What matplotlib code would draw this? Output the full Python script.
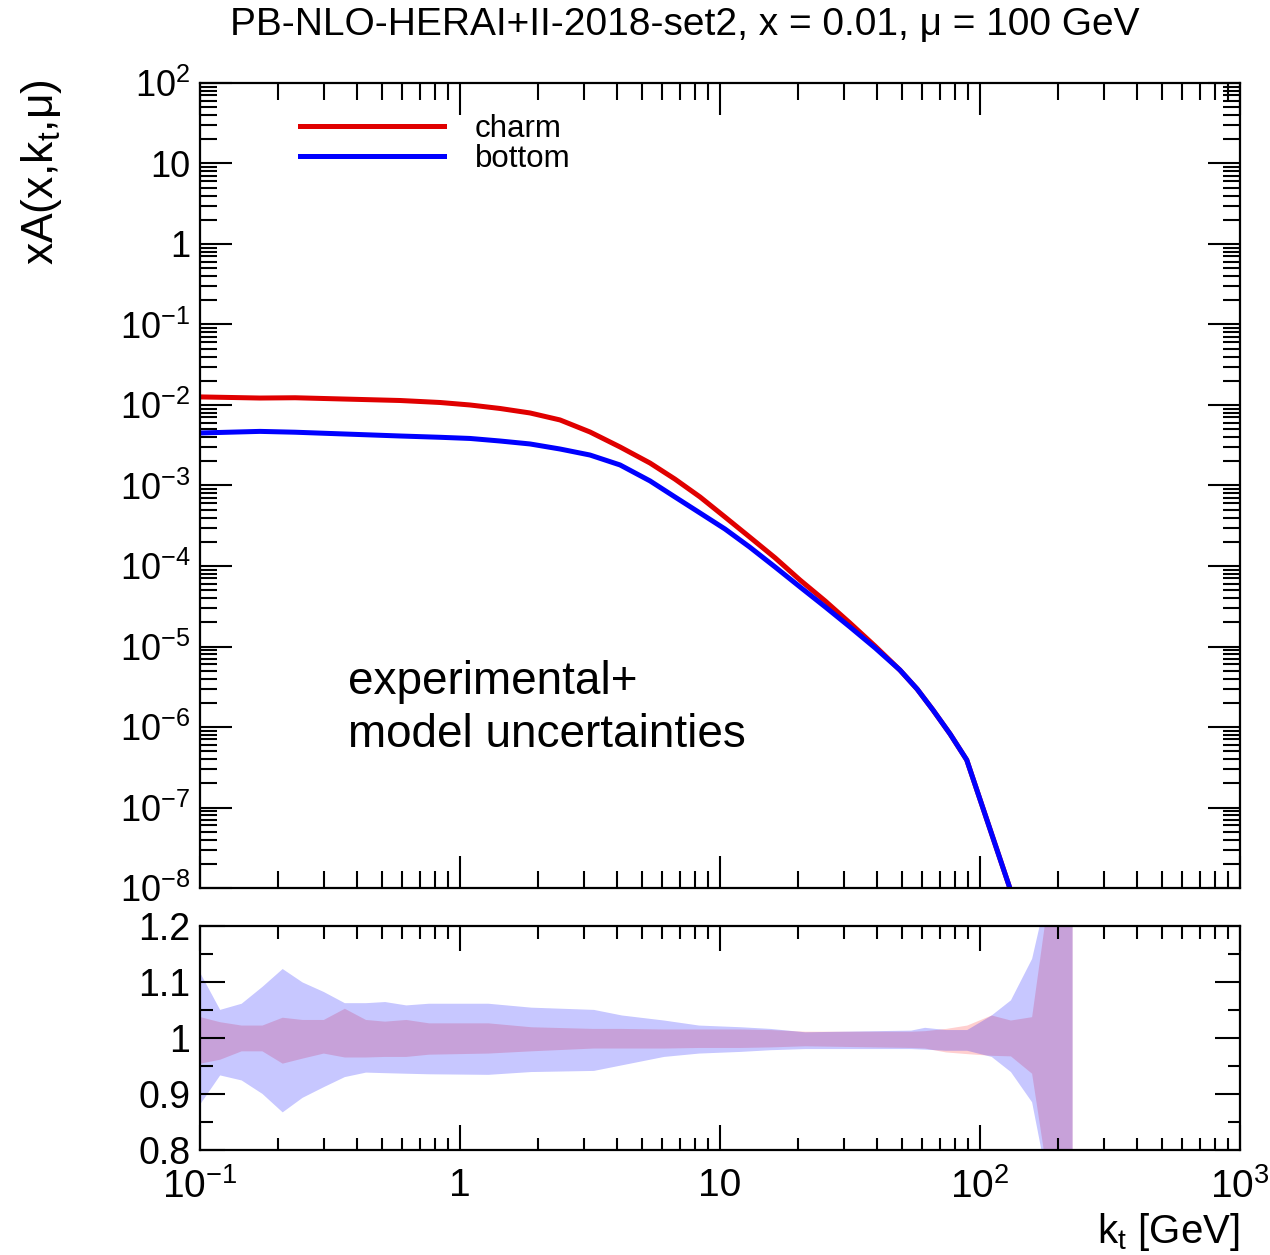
import numpy as np
import matplotlib.pyplot as plt
from matplotlib.ticker import FixedLocator, LogLocator, NullFormatter

plt.rcParams['font.family'] = ['Liberation Sans', 'DejaVu Sans']
plt.rcParams['mathtext.fontset'] = 'custom'
plt.rcParams['mathtext.rm'] = 'Liberation Sans'
plt.rcParams['mathtext.it'] = 'Liberation Sans:italic'
plt.rcParams['mathtext.default'] = 'regular'

# ---- central TMD values, xA(x, kt, mu) at x = 0.01, mu = 100 GeV ----
kt = [0.10, 0.17, 0.232, 0.588, 0.838, 1.093, 1.425, 1.859, 2.424, 3.162,
      4.125, 5.38, 6.71, 8.38, 10.45, 13.0, 16.3, 20.3, 25.4, 31.6, 39.5,
      49.2, 57.3, 65.9, 76.7, 88.9, 130.9, 157.9]
xa_charm = [0.0126, 0.0122, 0.0123, 0.01137, 0.01074, 0.0100, 0.00905,
            0.00796, 0.00652, 0.00462, 0.00301, 0.00190, 0.00120, 7.2e-4,
            4.06e-4, 2.29e-4, 1.26e-4, 6.7e-5, 3.67e-5, 1.96e-5, 1.01e-5,
            5.1e-6, 2.96e-6, 1.63e-6, 8.2e-7, 3.9e-7, 9.5e-9, 1.6e-9]
xa_bottom = [0.00449, 0.0047, 0.00459, 0.00412, 0.00397, 0.00384, 0.00357,
             0.00328, 0.00284, 0.00239, 0.0018, 0.00114, 7.2e-4, 4.55e-4,
             2.88e-4, 1.72e-4, 9.7e-5, 5.5e-5, 3.10e-5, 1.75e-5, 9.6e-6,
             5.1e-6, 2.96e-6, 1.63e-6, 8.2e-7, 3.9e-7, 9.5e-9, 1.6e-9]

# ---- relative uncertainty bands (exp + model) ----
band_kt = [0.100, 0.119, 0.144, 0.173, 0.207, 0.247, 0.298, 0.359, 0.433,
           0.513, 0.619, 0.757, 1.28, 1.87, 3.26, 4.18, 6.07, 8.28, 12.0,
           15.6, 21.2, 54.1, 61.2, 73.8, 88.9, 110.4, 130.9, 157.9, 189.0,
           226.0]
bottom_lo = [0.883, 0.934, 0.925, 0.901, 0.868, 0.894, 0.913, 0.931, 0.939,
             0.938, 0.937, 0.936, 0.935, 0.940, 0.942, 0.952, 0.967, 0.973,
             0.976, 0.979, 0.981, 0.981, 0.980, 0.978, 0.978, 0.967, 0.940,
             0.886, 0.70, 0.70]
bottom_hi = [1.116, 1.051, 1.062, 1.092, 1.124, 1.100, 1.083, 1.063, 1.063,
             1.065, 1.059, 1.062, 1.062, 1.055, 1.051, 1.041, 1.032, 1.023,
             1.020, 1.017, 1.011, 1.014, 1.019, 1.015, 1.015, 1.041, 1.068,
             1.142, 1.30, 1.30]
charm_lo = [0.955, 0.962, 0.977, 0.977, 0.955, 0.964, 0.973, 0.966, 0.966,
            0.967, 0.967, 0.971, 0.973, 0.977, 0.982, 0.982, 0.982, 0.983,
            0.983, 0.984, 0.986, 0.983, 0.982, 0.975, 0.972, 0.969, 0.968,
            0.937, 0.70, 0.70]
charm_hi = [1.038, 1.029, 1.023, 1.023, 1.037, 1.033, 1.033, 1.053, 1.033,
            1.030, 1.033, 1.027, 1.027, 1.020, 1.017, 1.017, 1.016, 1.016,
            1.016, 1.015, 1.012, 1.012, 1.013, 1.017, 1.023, 1.041, 1.032,
            1.038, 1.30, 1.30]

y_major = [1e-8, 1e-7, 1e-6, 1e-5, 1e-4, 1e-3, 1e-2, 1e-1, 1, 10, 100]
y_labels = ['$10^{-8}$', '$10^{-7}$', '$10^{-6}$', '$10^{-5}$', '$10^{-4}$',
            '$10^{-3}$', '$10^{-2}$', '$10^{-1}$', '1', '10', '$10^{2}$']
x_major = [0.1, 1, 10, 100, 1000]
x_labels = ['$10^{-1}$', '1', '10', '$10^{2}$', '$10^{3}$']
r_major = [0.8, 0.9, 1.0, 1.1, 1.2]
r_labels = ['0.8', '0.9', '1', '1.1', '1.2']

fig = plt.figure(figsize=(12.7, 12.55), dpi=100)
ax = fig.add_axes([0.1575, 0.2924, 0.8189, 0.6415])
rax = fig.add_axes([0.1575, 0.0837, 0.8189, 0.1785])

# upper pad: the distributions
ax.plot(kt, xa_charm, color='#e00000', lw=3.6, label='charm')
ax.plot(kt, xa_bottom, color='#0000ff', lw=3.6, label='bottom')
ax.set_xscale('log')
ax.set_yscale('log')
ax.set_xlim(0.1, 1000)
ax.set_ylim(1e-8, 1e2)
ax.yaxis.set_major_locator(FixedLocator(y_major))
ax.set_yticklabels(y_labels)
ax.yaxis.set_minor_locator(LogLocator(base=10, subs=np.arange(2, 10), numticks=100))
ax.yaxis.set_minor_formatter(NullFormatter())
ax.xaxis.set_major_locator(FixedLocator(x_major))
ax.xaxis.set_minor_locator(LogLocator(base=10, subs=np.arange(2, 10), numticks=100))
ax.xaxis.set_major_formatter(NullFormatter())
ax.xaxis.set_minor_formatter(NullFormatter())
ax.tick_params(which='both', direction='in', top=True, right=True, width=1.5)
ax.tick_params(which='major', length=23, labelsize=26, pad=7)
ax.tick_params(which='minor', length=12)

ax.legend(loc='upper left', bbox_to_anchor=(0.096, 0.961), frameon=False,
          fontsize=22.5, handlelength=4.6, handletextpad=1.0,
          labelspacing=0.0, borderpad=0, borderaxespad=0)
ax.text(0.142, 0.223, 'experimental+\nmodel uncertainties', transform=ax.transAxes,
        fontsize=33, ha='left', va='center', linespacing=1.24)

# lower pad: relative uncertainties
rax.fill_between(band_kt, charm_lo, charm_hi, color=(1.0, 0.0, 0.0), alpha=0.19, lw=0)
rax.fill_between(band_kt, bottom_lo, bottom_hi, color=(0.0, 0.0, 1.0), alpha=0.22, lw=0)
rax.set_xscale('log')
rax.set_xlim(0.1, 1000)
rax.set_ylim(0.8, 1.2)
rax.xaxis.set_major_locator(FixedLocator(x_major))
rax.set_xticklabels(x_labels)
rax.xaxis.set_minor_locator(LogLocator(base=10, subs=np.arange(2, 10), numticks=100))
rax.xaxis.set_minor_formatter(NullFormatter())
rax.yaxis.set_major_locator(FixedLocator(r_major))
rax.set_yticklabels(r_labels)
rax.yaxis.set_minor_locator(FixedLocator([0.85, 0.95, 1.05, 1.15]))
rax.tick_params(which='both', direction='in', top=True, right=True, width=1.5)
rax.tick_params(which='major', length=18)
rax.tick_params(which='minor', length=9)
rax.tick_params(axis='y', which='major', labelsize=27, pad=7)
rax.tick_params(axis='x', which='major', labelsize=28, pad=13)

for a in (ax, rax):
    for sp in a.spines.values():
        sp.set_linewidth(1.6)

fig.text(0.539, 0.980, 'PB-NLO-HERAI+II-2018-set2, x = 0.01, μ = 100 GeV',
         fontsize=28, ha='center', va='center')
fig.text(0.033, 0.863, 'xA(x,k$_t$,μ)', rotation=90, fontsize=32,
         ha='center', va='center')
fig.text(0.9764, 0.0183, 'k$_t$ [GeV]', fontsize=29, ha='right', va='center')

fig.savefig('out.png', dpi=100, facecolor='white')
